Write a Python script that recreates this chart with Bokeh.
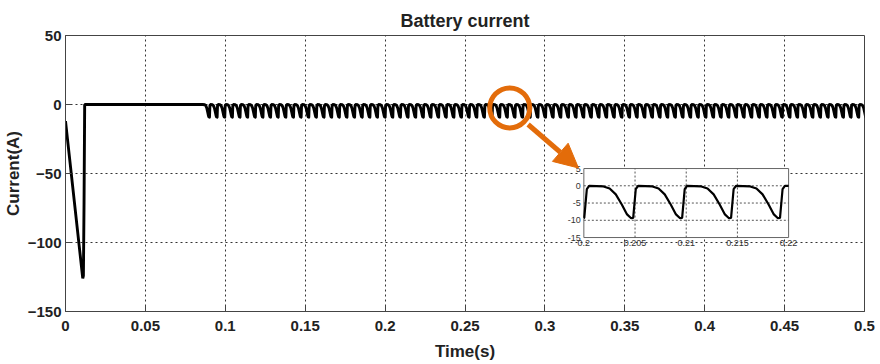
import numpy as np
from bokeh.plotting import figure
from bokeh.models import Range1d, Arrow, NormalHead, FixedTicker
from bokeh.embed import file_html
from bokeh.resources import INLINE
from bokeh.core.properties import value

# ---------------- data ----------------
title_text = "Battery current"
x_label = "Time(s)"
y_label = "Current(A)"
x_ticks = [0, 0.05, 0.1, 0.15, 0.2, 0.25, 0.3, 0.35, 0.4, 0.45, 0.5]
y_ticks = [-150, -100, -50, 0, 50]

# start-up transient
startup_t = [0.0, 0.0108, 0.0112, 0.0116, 0.0120, 0.0858]
startup_i = [-12.0, -126.0, -124.0, -72.0, 0.0, 0.0]

# one ripple cycle (phase in s from the top of a cycle, current in A)
cycle_phase = [0.0, 0.0014, 0.0020, 0.0026, 0.0032, 0.0037, 0.0041, 0.0043, 0.00455]
cycle_i = [0.0, -0.2, -0.8, -2.5, -5.5, -8.3, -9.4, -9.3, -1.0]
ripple_period = 0.00478
ripple_start = 0.0858
ripple_end = 0.5

# inset (zoomed view)
inset_x_ticks = [0.2, 0.205, 0.21, 0.215, 0.22]
inset_x_labels = ["0.2", "0.205", "0.21", "0.215", "0.22"]
inset_y_ticks = [5, 0, -5, -10, -15]
inset_x_lim = (0.2, 0.22)
inset_y_lim = (-15, 5)

# magnifier mark (where the zoom is taken) and arrow
mark_t, mark_i = 0.2780, -2.5
arrow_from = (0.2895, -14.5)
arrow_to = (0.3210, -46.0)

# ---------------- build series ----------------
t_parts = [np.array(startup_t)]
i_parts = [np.array(startup_i)]
k = 0
while ripple_start + k * ripple_period < ripple_end:
    s = ripple_start + k * ripple_period
    t_parts.append(s + np.array(cycle_phase))
    i_parts.append(np.array(cycle_i))
    k += 1
t = np.concatenate(t_parts)
cur = np.concatenate(i_parts)

# ---------------- layout constants ----------------
W, H = 880, 364
BL, BR, BT, BB = 64, 16, 35, 53
# inset box position as fraction of main frame (left, right, top, bottom)
IN_L, IN_R, IN_T, IN_B = 0.64875, 0.905, 0.482, 0.732

FONT = "Liberation Sans"
ORANGE = "#E36C0A"

p = figure(width=W, height=H, output_backend="svg", toolbar_location=None,
           x_range=Range1d(0, 0.5), y_range=Range1d(-150, 50),
           min_border_left=BL, min_border_right=BR, min_border_top=BT,
           min_border_bottom=BB, title=title_text)
p.background_fill_color = "white"
p.border_fill_color = "white"
p.outline_line_color = "#444444"
p.outline_line_width = 1

p.title.align = "center"
p.title.text_font = FONT
p.title.text_font_size = "18px"
p.title.text_font_style = "bold"
p.title.text_color = "#222222"
p.title.offset = 0

p.xaxis.ticker = FixedTicker(ticks=x_ticks)
p.yaxis.ticker = FixedTicker(ticks=y_ticks)
p.xaxis.major_label_overrides = {0: "0", 0.5: "0.5"}
for ax in (p.xaxis, p.yaxis):
    ax.major_tick_in = 6
    ax.major_tick_out = 0
    ax.minor_tick_line_color = None
    ax.axis_line_color = "#444444"
    ax.major_tick_line_color = "#444444"
    ax.major_label_text_font = FONT
    ax.major_label_text_font_size = "15px"
    ax.major_label_text_font_style = "bold"
    ax.major_label_text_color = "#222222"
    ax.axis_label_text_font = FONT
    ax.axis_label_text_font_size = "17px"
    ax.axis_label_text_font_style = "bold"
    ax.axis_label_text_color = "#222222"
p.xaxis.axis_label = x_label
p.yaxis.axis_label = y_label
p.xaxis.major_label_standoff = 9
p.yaxis.major_label_standoff = 4
p.xaxis.axis_label_standoff = 8
p.yaxis.axis_label_standoff = 2

for g in (p.xgrid, p.ygrid):
    g.grid_line_color = "#333333"
    g.grid_line_dash = "2 3"
    g.grid_line_width = 1
p.xgrid.ticker = FixedTicker(ticks=x_ticks)
p.ygrid.ticker = FixedTicker(ticks=y_ticks)

# main waveform
p.line(t, cur, line_color="black", line_width=2.9)

# ---------------- inset drawn with extra ranges ----------------
x0, x1 = inset_x_lim
y0, y1 = inset_y_lim
sx = (x1 - x0) / (IN_R - IN_L)
sy = (y1 - y0) / (IN_B - IN_T)
p.extra_x_ranges = {"ix": Range1d(x0 - IN_L * sx, x1 + (1 - IN_R) * sx)}
p.extra_y_ranges = {"iy": Range1d(y0 - (1 - IN_B) * sy, y1 + IN_T * sy)}
kw = dict(x_range_name="ix", y_range_name="iy")

p.quad(left=[x0], right=[x1], bottom=[y0], top=[y1], fill_color="white",
       line_color="#666666", line_width=1, **kw)
# inset grid
gx = inset_x_ticks[1:-1]
p.segment(x0=gx, x1=gx, y0=[y0] * len(gx), y1=[y1] * len(gx),
          line_color="#555555", line_dash="2 2", line_width=1, **kw)
gy = inset_y_ticks[1:-1]
p.segment(x0=[x0] * len(gy), x1=[x1] * len(gy), y0=gy, y1=gy,
          line_color="#555555", line_dash="2 2", line_width=1, **kw)
# inset data
mask = (t > x0) & (t < x1)
ti = np.concatenate([[x0], t[mask], [x1]])
ci = np.concatenate([[np.interp(x0, t, cur)], cur[mask], [np.interp(x1, t, cur)]])
p.line(ti, ci, line_color="black", line_width=2.2, **kw)
# inset tick labels
p.text(x=[x0] * len(inset_y_ticks), y=inset_y_ticks, text=[str(v) for v in inset_y_ticks],
       text_align="right", text_baseline="middle", x_offset=-3,
       text_font=value(FONT), text_font_size="9px", text_color="#333333", **kw)
p.text(x=inset_x_ticks, y=[y0] * len(inset_x_ticks), text=inset_x_labels,
       text_align="center", text_baseline="top", y_offset=2,
       text_font=value(FONT), text_font_size="9px", text_color="#333333", **kw)

# ---------------- magnifier and arrow ----------------
p.scatter([mark_t], [mark_i], marker="circle", size=40, fill_color=None,
          line_color=ORANGE, line_width=5)
p.add_layout(Arrow(x_start=arrow_from[0], y_start=arrow_from[1],
                   x_end=arrow_to[0], y_end=arrow_to[1],
                   line_color=ORANGE, line_width=5,
                   end=NormalHead(size=24, fill_color=ORANGE, line_color=ORANGE)))

open("out.html", "w").write(file_html(p, INLINE))
